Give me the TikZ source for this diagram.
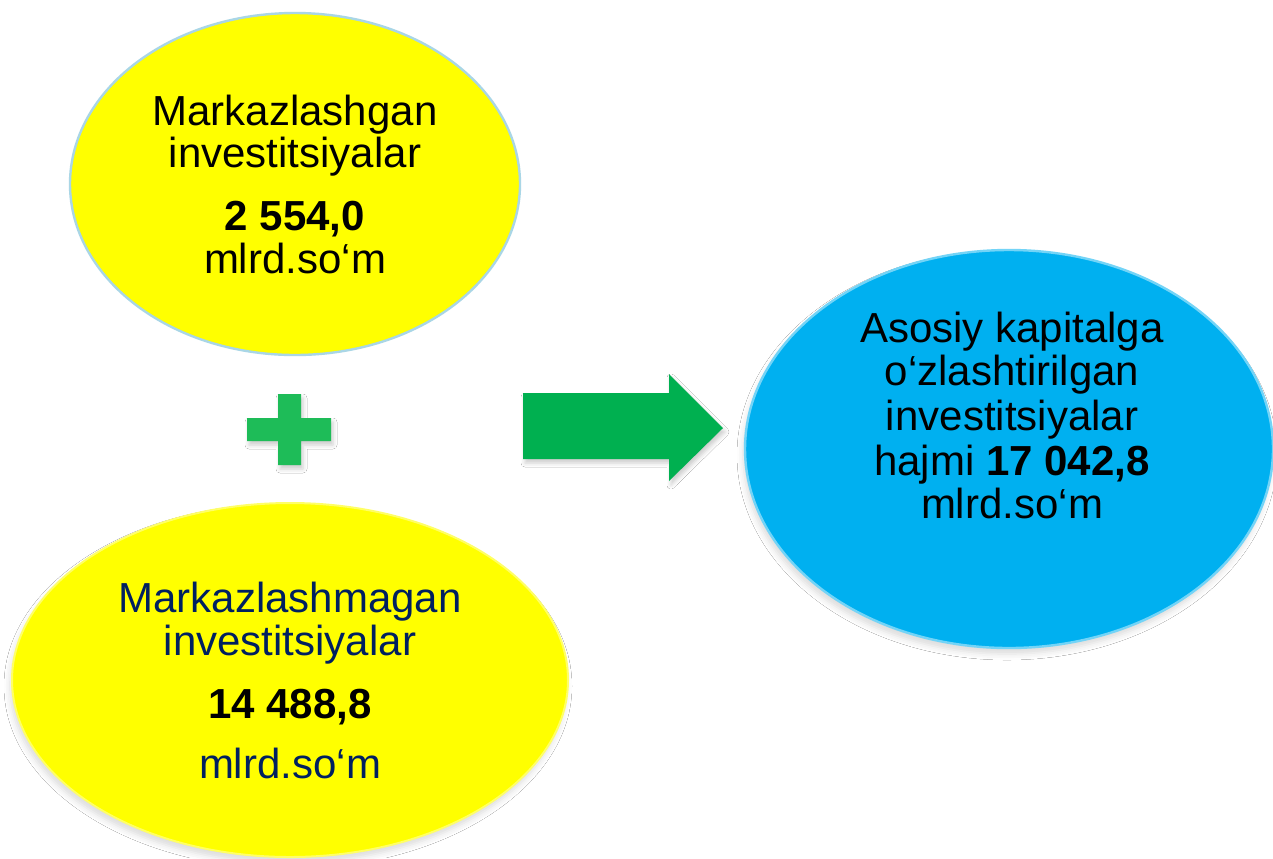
\documentclass[tikz,border=0pt]{standalone}
\usepackage{fontspec}
\setmainfont{Liberation Sans}
\usetikzlibrary{shapes.geometric,shadows.blur}
\definecolor{ylw}{HTML}{FFFF00}
\definecolor{cyanb}{HTML}{00B0F0}
\definecolor{grn}{HTML}{00B050}
\definecolor{grnplus}{RGB}{30,188,88}
\definecolor{navy}{HTML}{002060}
\definecolor{rim}{HTML}{A9D6E6}
\begin{document}
\begin{tikzpicture}[x=0.5pt,y=-0.5pt,
  blob/.style={ellipse, inner sep=0pt},
  softshadow/.style={blur shadow={shadow xshift=-1pt, shadow yshift=-3pt, shadow opacity=14, shadow blur radius=3pt}},
  txt/.style={anchor=base, inner sep=0pt, font=\fontsize{21}{25}\selectfont},
  shapefill/.style={blur shadow={shadow xshift=1pt, shadow yshift=-2pt, shadow opacity=20, shadow blur radius=2pt}}]
\useasboundingbox[fill=white] (0,0) rectangle (1273,858);

% ellipses
\node[blob, fill=ylw, draw=rim, line width=1.2pt, minimum width=225pt, minimum height=171pt] (top) at (295,184) {};
\node[blob, softshadow, fill=ylw, draw=ylw!60!white, line width=1pt, minimum width=278pt, minimum height=177pt] (bot) at (290,680) {};
\node[blob, softshadow, fill=cyanb, draw=cyanb!55!white, line width=1.2pt, minimum width=264pt, minimum height=199pt] (res) at (1009,449) {};

% top ellipse text
\node[txt] (t1) at (295,125) {Markazlashgan};
\node[txt] (t2) at (295,167) {investitsiyalar};
\node[txt] (t3) at (295,230) {\textbf{2 554,0}};
\node[txt] (t4) at (295,273) {mlrd.so‘m};

% bottom ellipse text
\node[txt, text=navy] (b1) at (290,612) {Markazlashmagan};
\node[txt, text=navy] (b2) at (290,655) {investitsiyalar};
\node[txt] (b3) at (290,718) {\textbf{14 488,8}};
\node[txt, text=navy] (b4) at (290,778) {mlrd.so‘m};

% result ellipse text
\node[txt] (r1) at (1012,342) {Asosiy kapitalga};
\node[txt] (r2) at (1012,385) {o‘zlashtirilgan};
\node[txt] (r3) at (1012,430) {investitsiyalar};
\node[txt] (r4) at (1012,475) {hajmi \textbf{17 042,8}};
\node[txt] (r5) at (1012,518) {mlrd.so‘m};

% plus sign
\fill[grnplus, shapefill] (278,394) -- (301,394) -- (301,418) -- (331,418) -- (331,441) -- (301,441)
  -- (301,465) -- (278,465) -- (278,441) -- (247,441) -- (247,418) -- (278,418) -- cycle;

% block arrow
\fill[grn, shapefill] (523,393) -- (669,393) -- (669,374) -- (723,428) -- (669,481) -- (669,459) -- (523,459) -- cycle;
\end{tikzpicture}
\end{document}
